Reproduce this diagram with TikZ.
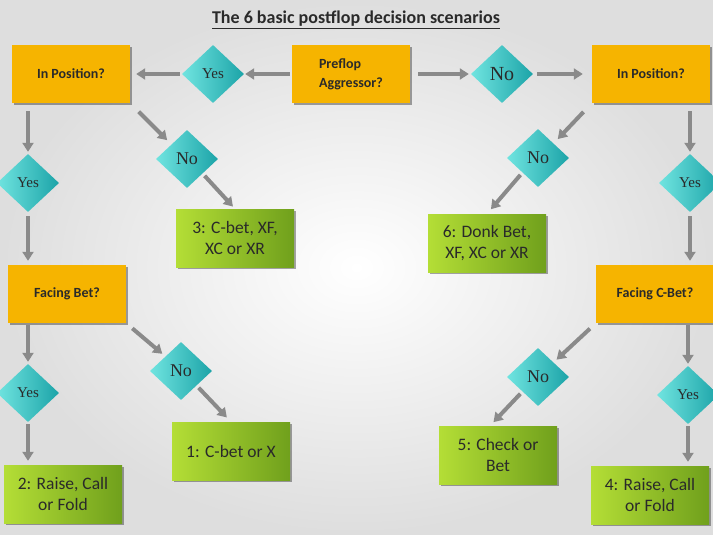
\documentclass[tikz,border=0pt]{standalone}
\usepackage{fontspec}
\setmainfont{Carlito}
\newfontfamily\dfont{Liberation Serif}
\usetikzlibrary{shapes.geometric,arrows.meta,shadows}
\definecolor{orangebox}{HTML}{F6B400}
\definecolor{greenL}{HTML}{B4DE36}
\definecolor{greenD}{HTML}{70A01C}
\definecolor{tealL}{HTML}{70E4E0}
\definecolor{tealD}{HTML}{1CA4A8}
\definecolor{arrgray}{HTML}{8A8A8A}
\definecolor{txt}{HTML}{2A2A2A}
\tikzset{
  shad/.style={drop shadow={shadow xshift=2pt, shadow yshift=-2pt, opacity=0.35, fill=black}},
  qbox/.style={rectangle, fill=orangebox, minimum width=118pt, minimum height=58pt, inner sep=2pt,
    align=left, text=txt, font=\bfseries\fontsize{14}{19}\selectfont, shad},
  rbox/.style={rectangle, left color=greenL, right color=greenD, minimum width=118pt, minimum height=58pt,
    inner sep=2pt, align=center, text=txt, font=\fontsize{17.5}{21}\selectfont, shad},
  dia/.style={diamond, inner sep=0pt, minimum width=62pt, minimum height=58pt,
    left color=tealL, right color=tealD, text=txt, font=\dfont\fontsize{15}{15}\selectfont},
  nodia/.style={dia, font=\dfont\fontsize{18}{18}\selectfont},
  arr/.style={draw=arrgray, line width=4pt, -{Triangle[width=11pt,length=9pt]}}
}
\begin{document}
\begin{tikzpicture}[x=1pt,y=-1pt]
\useasboundingbox (0,0) rectangle (713,535);
\shade[inner color=white, outer color=black!13] (0,0) rectangle (713,535);
\node[font=\bfseries\fontsize{18}{22}\selectfont, text=txt] (title) at (356,20) {\underline{The 6 basic postflop decision scenarios}};
% top row
\node[qbox] (pre) at (351,74) {Preflop\\Aggressor?};
\node[qbox] (inL) at (71,74) {In Position?};
\node[qbox] (inR) at (651,74) {In Position?};
\node[dia] (yesT) at (213,74) {Yes};
\node[nodia, font=\dfont\fontsize{20}{20}\selectfont] (noT) at (502,74) {No};
% left column
\node[dia] (yesL) at (28,183) {Yes};
\node[nodia] (noL) at (187,159) {No};
\node[rbox] (c3) at (235,238) {3: C-bet, XF,\\XC or XR};
\node[qbox, align=center] (fbL) at (67,294) {Facing Bet?};
\node[dia] (yesL2) at (28,393) {Yes};
\node[nodia] (noL2) at (181,371) {No};
\node[rbox] (c2) at (63,494) {2: Raise, Call\\or Fold};
\node[rbox] (c1) at (231,451) {1: C-bet or X};
% right column
\node[dia] (yesR) at (690,183) {Yes};
\node[nodia] (noR) at (538,158) {No};
\node[rbox] (c6) at (487,243) {6: Donk Bet,\\XF, XC or XR};
\node[qbox, align=center] (fcR) at (655,294) {Facing C-Bet?};
\node[dia] (yesR2) at (688,395) {Yes};
\node[nodia] (noR2) at (538,377) {No};
\node[rbox] (c5) at (498,455) {5: Check or\\Bet};
\node[rbox] (c4) at (650,495) {4: Raise, Call\\or Fold};
% connectors top
\draw[arr, shorten <=2pt, shorten >=1pt] (pre.west) -- (yesT.east);
\draw[arr, shorten <=2pt, shorten >=6pt] (yesT.west) -- (inL.east);
\draw[arr, shorten <=8pt, shorten >=2pt] (pre.east) -- (noT.west);
\draw[arr, shorten <=4pt, shorten >=9pt] (noT.east) -- (inR.west);
% left
\draw[arr, shorten <=8pt, shorten >=2pt] (inL.south -| yesL.north) -- (yesL.north);
\draw[arr, shorten <=4pt, shorten >=4pt] (yesL.south) -- (yesL.south |- fbL.north);
\draw[arr, shorten <=12pt, shorten >=6pt] (inL.south east) -- (noL.north west);
\draw[arr, shorten <=3pt, shorten >=3pt] (noL.south east) -- (c3.north);
\draw[arr, shorten <=2pt, shorten >=2pt] (fbL.south -| yesL2.north) -- (yesL2.north);
\draw[arr, shorten <=2pt, shorten >=4pt] (yesL2.south) -- (yesL2.south |- c2.north);
\draw[arr, shorten <=8pt, shorten >=4pt] (fbL.south east) -- (noL2.north west);
\draw[arr, shorten <=3pt, shorten >=6pt] (noL2.south east) -- (c1.north);
% right
\draw[arr, shorten <=8pt, shorten >=2pt] (inR.south -| yesR.north) -- (yesR.north);
\draw[arr, shorten <=4pt, shorten >=4pt] (yesR.south) -- (yesR.south |- fcR.north);
\draw[arr, shorten <=12pt, shorten >=6pt] (inR.south west) -- (noR.north east);
\draw[arr, shorten <=3pt, shorten >=6pt] (noR.south west) -- (c6.north);
\draw[arr, shorten <=2pt, shorten >=2pt] (fcR.south -| yesR2.north) -- (yesR2.north);
\draw[arr, shorten <=2pt, shorten >=4pt] (yesR2.south) -- (yesR2.south |- c4.north);
\draw[arr, shorten <=8pt, shorten >=4pt] (fcR.south west) -- (noR2.north east);
\draw[arr, shorten <=3pt, shorten >=5pt] (noR2.south west) -- ([xshift=-8pt]c5.north);
\end{tikzpicture}
\end{document}
